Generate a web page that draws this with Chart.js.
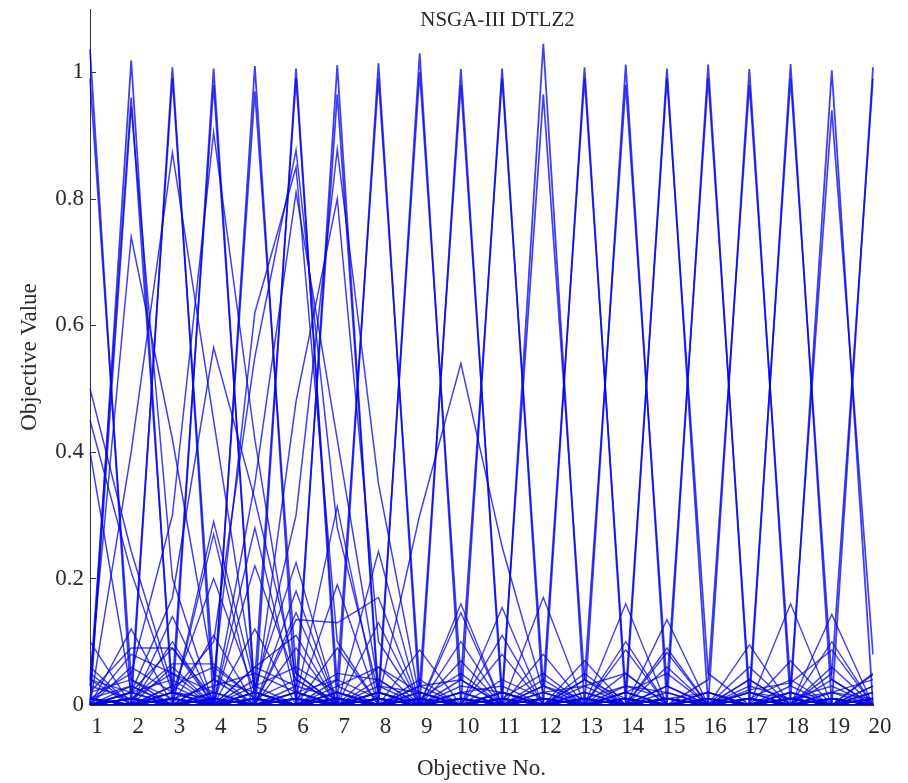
<!DOCTYPE html>
<html>
<head>
<meta charset="utf-8">
<title>NSGA-III DTLZ2</title>
<script src="https://cdn.jsdelivr.net/npm/chart.js@4.4.1/dist/chart.umd.min.js"></script>
<style>
  html, body { margin: 0; padding: 0; background: #fff; }
  #wrap { width: 908px; height: 783px; position: relative; }
</style>
</head>
<body>
<div id="wrap"><canvas id="myChart"></canvas></div>
<script>
// objective index on the x axis
const objectiveNo = [1, 2, 3, 4, 5, 6, 7, 8, 9, 10, 11, 12, 13, 14, 15, 16, 17, 18, 19, 20];
const valueTicks = [0, 0.2, 0.4, 0.6, 0.8, 1];

// solutions sitting on one axis (corner of the front)
const cornerRowsA = [
    [1.036, 0.00, 0.01, 0.00, 0.02, 0.00, 0.00, 0.01, 0.00, 0.00, 0.01, 0.00, 0.00, 0.00, 0.00, 0.01, 0.00, 0.00, 0.00, 0.00],
    [0.00, 1.019, 0.00, 0.01, 0.00, 0.00, 0.01, 0.00, 0.00, 0.02, 0.00, 0.00, 0.00, 0.01, 0.00, 0.00, 0.00, 0.01, 0.00, 0.00],
    [0.01, 0.00, 1.008, 0.00, 0.00, 0.01, 0.00, 0.00, 0.01, 0.00, 0.00, 0.00, 0.02, 0.00, 0.00, 0.00, 0.01, 0.00, 0.00, 0.01],
    [0.00, 0.01, 0.00, 1.006, 0.00, 0.00, 0.00, 0.02, 0.00, 0.00, 0.00, 0.01, 0.00, 0.00, 0.01, 0.00, 0.00, 0.00, 0.01, 0.00],
    [0.00, 0.00, 0.01, 0.00, 1.010, 0.00, 0.01, 0.00, 0.00, 0.00, 0.02, 0.00, 0.00, 0.00, 0.00, 0.00, 0.01, 0.00, 0.00, 0.00],
    [0.01, 0.00, 0.00, 0.00, 0.00, 1.006, 0.00, 0.00, 0.01, 0.00, 0.00, 0.00, 0.00, 0.02, 0.00, 0.00, 0.00, 0.00, 0.01, 0.00],
    [0.00, 0.00, 0.00, 0.01, 0.00, 0.00, 1.011, 0.00, 0.00, 0.01, 0.00, 0.00, 0.00, 0.00, 0.00, 0.02, 0.00, 0.01, 0.00, 0.00],
    [0.00, 0.01, 0.00, 0.00, 0.00, 0.01, 0.00, 1.014, 0.00, 0.00, 0.00, 0.01, 0.00, 0.00, 0.00, 0.00, 0.00, 0.00, 0.00, 0.02],
    [0.00, 0.00, 0.00, 0.00, 0.01, 0.00, 0.00, 0.00, 1.030, 0.00, 0.00, 0.00, 0.01, 0.00, 0.02, 0.00, 0.00, 0.00, 0.00, 0.00],
    [0.01, 0.00, 0.00, 0.00, 0.00, 0.00, 0.02, 0.00, 0.00, 1.005, 0.00, 0.00, 0.00, 0.01, 0.00, 0.00, 0.00, 0.02, 0.00, 0.00],
    [0.00, 0.00, 0.02, 0.00, 0.00, 0.00, 0.00, 0.01, 0.00, 0.00, 1.006, 0.00, 0.00, 0.00, 0.00, 0.01, 0.00, 0.00, 0.00, 0.01],
    [0.00, 0.01, 0.00, 0.00, 0.00, 0.02, 0.00, 0.00, 0.00, 0.01, 0.00, 1.045, 0.00, 0.00, 0.00, 0.00, 0.01, 0.00, 0.00, 0.00],
    [0.00, 0.00, 0.00, 0.02, 0.00, 0.00, 0.00, 0.00, 0.01, 0.00, 0.00, 0.00, 1.008, 0.00, 0.01, 0.00, 0.00, 0.00, 0.02, 0.00],
    [0.01, 0.00, 0.00, 0.00, 0.00, 0.00, 0.01, 0.00, 0.00, 0.00, 0.02, 0.00, 0.00, 1.012, 0.00, 0.00, 0.00, 0.01, 0.00, 0.00],
    [0.00, 0.00, 0.01, 0.00, 0.02, 0.00, 0.00, 0.00, 0.00, 0.01, 0.00, 0.00, 0.00, 0.00, 1.006, 0.00, 0.01, 0.00, 0.00, 0.00],
    [0.00, 0.02, 0.00, 0.00, 0.00, 0.01, 0.00, 0.00, 0.00, 0.00, 0.00, 0.01, 0.00, 0.00, 0.00, 1.012, 0.00, 0.00, 0.00, 0.01],
    [0.00, 0.00, 0.00, 0.01, 0.00, 0.00, 0.00, 0.02, 0.00, 0.00, 0.00, 0.00, 0.01, 0.00, 0.00, 0.00, 1.005, 0.00, 0.01, 0.00],
    [0.01, 0.00, 0.00, 0.00, 0.00, 0.00, 0.01, 0.00, 0.00, 0.02, 0.00, 0.00, 0.00, 0.00, 0.01, 0.00, 0.00, 1.013, 0.00, 0.00],
    [0.00, 0.00, 0.01, 0.00, 0.00, 0.00, 0.00, 0.00, 0.02, 0.00, 0.01, 0.00, 0.00, 0.00, 0.00, 0.00, 0.00, 0.01, 1.003, 0.00],
    [0.00, 0.01, 0.00, 0.00, 0.01, 0.00, 0.00, 0.00, 0.00, 0.00, 0.00, 0.02, 0.00, 0.01, 0.00, 0.00, 0.00, 0.00, 0.00, 1.008]
];

// second copy of the corners, slightly off the axis
const cornerRowsB = [
    [0.99, 0.04, 0.00, 0.00, 0.01, 0.00, 0.02, 0.00, 0.00, 0.00, 0.00, 0.01, 0.00, 0.00, 0.00, 0.00, 0.00, 0.01, 0.00, 0.00],
    [0.03, 0.96, 0.02, 0.00, 0.00, 0.00, 0.00, 0.01, 0.00, 0.00, 0.00, 0.00, 0.01, 0.00, 0.00, 0.00, 0.00, 0.00, 0.01, 0.00],
    [0.00, 0.02, 0.99, 0.04, 0.00, 0.00, 0.00, 0.00, 0.00, 0.01, 0.00, 0.00, 0.00, 0.00, 0.01, 0.00, 0.00, 0.00, 0.00, 0.00],
    [0.00, 0.00, 0.03, 0.98, 0.02, 0.00, 0.01, 0.00, 0.00, 0.00, 0.00, 0.00, 0.00, 0.01, 0.00, 0.00, 0.00, 0.00, 0.00, 0.01],
    [0.01, 0.00, 0.00, 0.02, 0.97, 0.05, 0.00, 0.00, 0.01, 0.00, 0.00, 0.00, 0.00, 0.00, 0.00, 0.01, 0.00, 0.00, 0.00, 0.00],
    [0.00, 0.00, 0.00, 0.00, 0.04, 0.99, 0.03, 0.00, 0.00, 0.00, 0.01, 0.00, 0.00, 0.00, 0.00, 0.00, 0.00, 0.01, 0.00, 0.00],
    [0.00, 0.01, 0.00, 0.00, 0.00, 0.03, 0.965, 0.02, 0.00, 0.00, 0.00, 0.00, 0.01, 0.00, 0.00, 0.00, 0.00, 0.00, 0.00, 0.00],
    [0.00, 0.00, 0.00, 0.00, 0.01, 0.00, 0.04, 0.99, 0.03, 0.00, 0.00, 0.00, 0.00, 0.00, 0.01, 0.00, 0.00, 0.00, 0.00, 0.00],
    [0.01, 0.00, 0.00, 0.00, 0.00, 0.00, 0.00, 0.02, 1.00, 0.04, 0.00, 0.00, 0.00, 0.00, 0.00, 0.00, 0.01, 0.00, 0.00, 0.00],
    [0.00, 0.00, 0.01, 0.00, 0.00, 0.00, 0.00, 0.00, 0.03, 0.98, 0.02, 0.00, 0.00, 0.00, 0.00, 0.00, 0.00, 0.00, 0.01, 0.00],
    [0.00, 0.00, 0.00, 0.00, 0.00, 0.01, 0.00, 0.00, 0.00, 0.04, 0.99, 0.03, 0.00, 0.00, 0.00, 0.00, 0.00, 0.00, 0.00, 0.01],
    [0.00, 0.00, 0.00, 0.01, 0.00, 0.00, 0.00, 0.00, 0.00, 0.00, 0.02, 0.965, 0.04, 0.00, 0.00, 0.01, 0.00, 0.00, 0.00, 0.00],
    [0.01, 0.00, 0.00, 0.00, 0.00, 0.00, 0.00, 0.01, 0.00, 0.00, 0.00, 0.03, 0.99, 0.02, 0.00, 0.00, 0.00, 0.00, 0.00, 0.00],
    [0.00, 0.00, 0.00, 0.00, 0.00, 0.00, 0.00, 0.00, 0.00, 0.01, 0.00, 0.00, 0.04, 0.98, 0.03, 0.00, 0.00, 0.00, 0.01, 0.00],
    [0.00, 0.01, 0.00, 0.00, 0.00, 0.00, 0.01, 0.00, 0.00, 0.00, 0.00, 0.00, 0.00, 0.02, 0.99, 0.05, 0.00, 0.00, 0.00, 0.00],
    [0.00, 0.00, 0.00, 0.00, 0.00, 0.00, 0.00, 0.00, 0.01, 0.00, 0.00, 0.00, 0.00, 0.00, 0.03, 0.99, 0.02, 0.00, 0.00, 0.00],
    [0.00, 0.00, 0.00, 0.01, 0.00, 0.00, 0.00, 0.00, 0.00, 0.00, 0.00, 0.01, 0.00, 0.00, 0.00, 0.04, 0.98, 0.03, 0.00, 0.00],
    [0.01, 0.00, 0.00, 0.00, 0.00, 0.00, 0.00, 0.00, 0.00, 0.00, 0.01, 0.00, 0.00, 0.00, 0.00, 0.00, 0.02, 0.99, 0.04, 0.00],
    [0.00, 0.00, 0.00, 0.00, 0.00, 0.01, 0.00, 0.00, 0.00, 0.00, 0.00, 0.00, 0.00, 0.00, 0.01, 0.00, 0.00, 0.03, 0.94, 0.08],
    [0.00, 0.00, 0.00, 0.00, 0.00, 0.00, 0.00, 0.01, 0.00, 0.00, 0.00, 0.00, 0.00, 0.01, 0.00, 0.00, 0.00, 0.00, 0.05, 0.99]
];

// solutions with one large and a couple of medium objectives
const upperRows = [
    [0.50, 0.243, 0.03, 0.00, 0.01, 0.00, 0.00, 0.00, 0.00, 0.00, 0.00, 0.00, 0.00, 0.01, 0.00, 0.00, 0.00, 0.00, 0.00, 0.00],
    [0.45, 0.21, 0.02, 0.01, 0.00, 0.00, 0.01, 0.00, 0.00, 0.00, 0.00, 0.00, 0.00, 0.00, 0.00, 0.00, 0.01, 0.00, 0.00, 0.00],
    [0.40, 0.02, 0.09, 0.00, 0.00, 0.01, 0.00, 0.00, 0.00, 0.01, 0.00, 0.00, 0.00, 0.00, 0.00, 0.00, 0.00, 0.00, 0.01, 0.00],
    [0.04, 0.74, 0.42, 0.05, 0.00, 0.00, 0.00, 0.01, 0.00, 0.00, 0.00, 0.00, 0.01, 0.00, 0.00, 0.00, 0.00, 0.00, 0.00, 0.00],
    [0.00, 0.945, 0.20, 0.00, 0.01, 0.00, 0.00, 0.00, 0.00, 0.00, 0.01, 0.00, 0.00, 0.00, 0.00, 0.01, 0.00, 0.00, 0.00, 0.00],
    [0.00, 0.40, 0.873, 0.45, 0.03, 0.00, 0.00, 0.00, 0.01, 0.00, 0.00, 0.00, 0.00, 0.00, 0.00, 0.00, 0.00, 0.01, 0.00, 0.00],
    [0.01, 0.05, 0.30, 0.905, 0.42, 0.02, 0.00, 0.00, 0.00, 0.00, 0.00, 0.01, 0.00, 0.00, 0.00, 0.00, 0.00, 0.00, 0.00, 0.00],
    [0.00, 0.02, 0.17, 0.565, 0.325, 0.05, 0.00, 0.00, 0.00, 0.00, 0.00, 0.00, 0.00, 0.00, 0.01, 0.00, 0.00, 0.00, 0.00, 0.00],
    [0.00, 0.00, 0.02, 0.10, 0.55, 0.877, 0.28, 0.02, 0.00, 0.00, 0.00, 0.00, 0.00, 0.00, 0.00, 0.00, 0.00, 0.00, 0.00, 0.01],
    [0.00, 0.00, 0.00, 0.04, 0.62, 0.85, 0.10, 0.00, 0.00, 0.00, 0.01, 0.00, 0.00, 0.00, 0.00, 0.00, 0.00, 0.00, 0.00, 0.00],
    [0.00, 0.00, 0.00, 0.00, 0.35, 0.81, 0.42, 0.03, 0.00, 0.00, 0.00, 0.00, 0.00, 0.01, 0.00, 0.00, 0.00, 0.00, 0.00, 0.00],
    [0.00, 0.00, 0.00, 0.00, 0.02, 0.30, 0.878, 0.35, 0.01, 0.00, 0.00, 0.00, 0.00, 0.00, 0.00, 0.00, 0.01, 0.00, 0.00, 0.00],
    [0.00, 0.00, 0.00, 0.00, 0.00, 0.48, 0.80, 0.10, 0.00, 0.00, 0.00, 0.00, 0.00, 0.00, 0.00, 0.00, 0.00, 0.00, 0.01, 0.00],
    [0.00, 0.00, 0.00, 0.00, 0.00, 0.00, 0.00, 0.01, 0.30, 0.54, 0.25, 0.02, 0.00, 0.00, 0.00, 0.00, 0.00, 0.00, 0.00, 0.00]
];

// mid-range trade-off solutions
const middleRows = [
    [0.02, 0.09, 0.09, 0.01, 0.00, 0.02, 0.00, 0.01, 0.00, 0.00, 0.01, 0.00, 0.00, 0.00, 0.01, 0.00, 0.00, 0.00, 0.00, 0.00],
    [0.00, 0.01, 0.065, 0.065, 0.01, 0.00, 0.02, 0.00, 0.00, 0.00, 0.00, 0.01, 0.00, 0.00, 0.00, 0.00, 0.00, 0.01, 0.00, 0.00],
    [0.00, 0.02, 0.00, 0.29, 0.03, 0.225, 0.00, 0.02, 0.00, 0.16, 0.00, 0.01, 0.00, 0.00, 0.135, 0.00, 0.00, 0.02, 0.00, 0.01],
    [0.01, 0.00, 0.14, 0.00, 0.28, 0.01, 0.314, 0.00, 0.02, 0.00, 0.154, 0.00, 0.00, 0.16, 0.00, 0.00, 0.095, 0.00, 0.00, 0.00],
    [0.00, 0.03, 0.00, 0.27, 0.00, 0.146, 0.00, 0.243, 0.00, 0.01, 0.00, 0.17, 0.00, 0.00, 0.00, 0.01, 0.00, 0.16, 0.00, 0.048],
    [0.00, 0.00, 0.02, 0.20, 0.02, 0.00, 0.19, 0.00, 0.087, 0.00, 0.00, 0.00, 0.07, 0.00, 0.083, 0.00, 0.00, 0.00, 0.143, 0.00],
    [0.04, 0.00, 0.00, 0.01, 0.00, 0.135, 0.13, 0.17, 0.00, 0.146, 0.00, 0.01, 0.00, 0.087, 0.00, 0.00, 0.024, 0.035, 0.087, 0.00],
    [0.00, 0.12, 0.00, 0.11, 0.00, 0.18, 0.00, 0.06, 0.00, 0.10, 0.00, 0.08, 0.00, 0.05, 0.00, 0.00, 0.06, 0.00, 0.10, 0.00],
    [0.06, 0.00, 0.10, 0.00, 0.12, 0.00, 0.09, 0.00, 0.04, 0.00, 0.11, 0.00, 0.05, 0.00, 0.09, 0.00, 0.00, 0.07, 0.00, 0.03],
    [0.00, 0.08, 0.05, 0.00, 0.06, 0.11, 0.00, 0.04, 0.00, 0.07, 0.00, 0.04, 0.00, 0.10, 0.00, 0.02, 0.00, 0.00, 0.06, 0.00],
    [0.10, 0.00, 0.06, 0.00, 0.00, 0.09, 0.00, 0.13, 0.00, 0.00, 0.08, 0.00, 0.03, 0.00, 0.06, 0.00, 0.04, 0.00, 0.00, 0.05],
    [0.00, 0.00, 0.00, 0.00, 0.22, 0.04, 0.00, 0.00, 0.00, 0.00, 0.00, 0.00, 0.00, 0.00, 0.00, 0.00, 0.00, 0.00, 0.00, 0.00]
];

// near-zero solutions hugging the bottom
const floorRows = [
    [0.02, 0.04, 0.01, 0.03, 0.05, 0.02, 0.04, 0.01, 0.00, 0.03, 0.02, 0.00, 0.01, 0.03, 0.02, 0.00, 0.02, 0.01, 0.03, 0.00],
    [0.05, 0.00, 0.03, 0.06, 0.01, 0.04, 0.00, 0.03, 0.02, 0.00, 0.04, 0.01, 0.00, 0.02, 0.05, 0.00, 0.00, 0.02, 0.00, 0.03],
    [0.00, 0.06, 0.02, 0.00, 0.03, 0.06, 0.02, 0.00, 0.01, 0.05, 0.00, 0.03, 0.01, 0.00, 0.03, 0.00, 0.04, 0.00, 0.02, 0.01],
    [0.03, 0.01, 0.05, 0.02, 0.00, 0.01, 0.05, 0.04, 0.00, 0.02, 0.03, 0.00, 0.04, 0.01, 0.00, 0.00, 0.01, 0.04, 0.00, 0.02],
    [0.01, 0.03, 0.00, 0.04, 0.02, 0.00, 0.03, 0.06, 0.02, 0.00, 0.01, 0.05, 0.00, 0.03, 0.01, 0.02, 0.00, 0.00, 0.04, 0.00],
    [0.04, 0.02, 0.04, 0.00, 0.06, 0.03, 0.01, 0.00, 0.03, 0.04, 0.00, 0.02, 0.03, 0.05, 0.00, 0.00, 0.03, 0.01, 0.02, 0.04],
    [0.00, 0.01, 0.00, 0.01, 0.00, 0.02, 0.00, 0.01, 0.00, 0.01, 0.00, 0.00, 0.02, 0.00, 0.01, 0.00, 0.02, 0.00, 0.01, 0.00],
    [0.01, 0.00, 0.02, 0.00, 0.01, 0.00, 0.01, 0.00, 0.01, 0.00, 0.02, 0.00, 0.00, 0.01, 0.00, 0.01, 0.00, 0.01, 0.00, 0.01]
];

const lineColor = 'rgba(0, 0, 235, 0.75)';
const serif = "'Liberation Serif', 'Times New Roman', serif";

function toDatasets(rows, width, tag) {
    return rows.map((row, i) => ({
        label: tag + (i + 1),
        data: row,
        borderColor: lineColor,
        borderWidth: width,
        pointRadius: 0,
        tension: 0,
        fill: false
    }));
}

// corner solutions drawn a bit heavier
let datasets = [].concat(
    toDatasets(floorRows, 1.4, 'floor'),
    toDatasets(middleRows, 1.4, 'mid'),
    toDatasets(upperRows, 1.5, 'upper'),
    toDatasets(cornerRowsB, 1.7, 'cornerB'),
    toDatasets(cornerRowsA, 1.8, 'cornerA')
);

// small inward tick marks on the value axis + title inside the top of the plot
const axisDecor = {
    id: 'axisDecor',
    afterDraw(chart) {
        const c = chart.ctx;
        const y = chart.scales.y;
        const area = chart.chartArea;
        c.save();
        c.strokeStyle = '#333';
        c.lineWidth = 1;
        valueTicks.forEach(v => {
            const py = Math.round(y.getPixelForValue(v)) + 0.5;
            c.beginPath();
            c.moveTo(area.left, py);
            c.lineTo(area.left + 6, py);
            c.stroke();
        });
        c.fillStyle = '#2a2a2a';
        c.font = '21px ' + serif;
        c.textAlign = 'center';
        c.textBaseline = 'middle';
        c.fillText('NSGA-III DTLZ2', (area.left + area.right) / 2 + 16, 20);
        c.restore();
    }
};

var ctx = document.getElementById('myChart').getContext('2d');
var myChart = new Chart(ctx, {
    type: 'line',
    data: {
        labels: objectiveNo,
        datasets: datasets
    },
    options: {
        responsive: true,
        maintainAspectRatio: false,
        animation: false,
        layout: { padding: { top: 9, right: 35, left: 0, bottom: 0 } },
        plugins: {
            legend: { display: false },
            tooltip: { enabled: false }
        },
        scales: {
            x: {
                type: 'category',
                offset: false,
                grid: { display: false, drawTicks: false },
                border: { display: true, color: '#333' },
                ticks: {
                    color: '#2a2a2a',
                    font: { family: serif, size: 23 },
                    padding: 8,
                    labelOffset: 7,
                    maxRotation: 0,
                    autoSkip: false
                },
                title: {
                    display: true,
                    text: 'Objective No.',
                    color: '#2a2a2a',
                    font: { family: serif, size: 23 },
                    padding: { top: 0, bottom: 0 }
                },
                afterFit(scale) {
                    scale.height = 78;
                    scale.paddingLeft = 0;
                    scale.paddingRight = 0;
                }
            },
            y: {
                min: 0,
                max: 1.1,
                grid: { display: false, drawTicks: false },
                border: { display: true, color: '#333' },
                afterBuildTicks(scale) {
                    scale.ticks = valueTicks.map(v => ({ value: v }));
                },
                ticks: {
                    color: '#2a2a2a',
                    font: { family: serif, size: 23 },
                    padding: 6,
                    callback: v => String(Math.round(v * 10) / 10)
                },
                title: {
                    display: true,
                    text: 'Objective Value',
                    color: '#2a2a2a',
                    font: { family: serif, size: 23 },
                    padding: { top: 16, bottom: 0 }
                },
                afterFit(scale) {
                    scale.width = 90;
                    scale.paddingTop = 0;
                    scale.paddingBottom = 0;
                }
            }
        }
    },
    plugins: [axisDecor]
});
</script>
</body>
</html>
